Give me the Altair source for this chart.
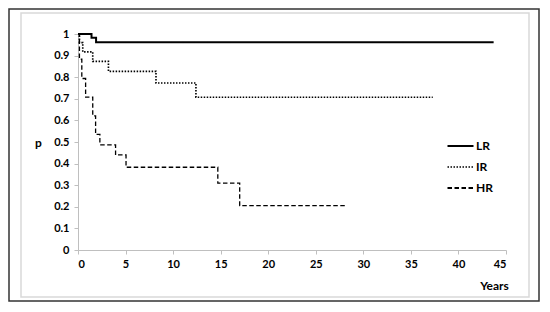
import altair as alt
import pandas as pd

# Kaplan-Meier style survival curves (years, probability)
lr_t = [0, 1.42, 1.9, 43.7]
lr_p = [1, 0.983, 0.962, 0.962]
ir_t = [0, 0.15, 0.5, 1.55, 3.2, 8.2, 12.4, 37.3]
ir_p = [1, 0.96, 0.917, 0.873, 0.827, 0.773, 0.707, 0.707]
hr_t = [0, 0.15, 0.4, 0.8, 1.55, 1.85, 2.3, 3.95, 5.05, 14.7, 17.0, 28.3]
hr_p = [1, 0.883, 0.794, 0.708, 0.621, 0.535, 0.487, 0.44, 0.383, 0.31, 0.205, 0.205]
series = ["LR", "IR", "HR"]
x_ticks = list(range(0, 50, 5))
y_ticks = [round(i * 0.1, 1) for i in range(11)]

rows = []
for name, ts, ps in [("LR", lr_t, lr_p), ("IR", ir_t, ir_p), ("HR", hr_t, hr_p)]:
    for t, p in zip(ts, ps):
        rows.append({"series": name, "t": t, "p": p})
df = pd.DataFrame(rows)

W, H = 428, 216
FONT = "Lato"
dashes = {"LR": [1, 0], "IR": [1.5, 1.5], "HR": [4.5, 2.5]}
widths = {"LR": 2, "IR": 1.3, "HR": 2}

xscale = alt.Scale(domain=[0, 45], nice=False, zero=False)
yscale = alt.Scale(domain=[0, 1], nice=False)

xaxis = alt.Axis(values=x_ticks, grid=False, domainColor="#bfbfbf", tickColor="#bfbfbf",
                 tickSize=4, labelPadding=4, labelFont=FONT, labelFontWeight="bold",
                 labelFontSize=11, labelColor="#000", title="Years", titleFont=FONT,
                 titleFontWeight="bold", titleFontSize=12, titleColor="#000",
                 titleX=416, titleY=35, titleAlign="center", titleBaseline="middle")
yaxis = alt.Axis(values=y_ticks, grid=False, domainColor="#bfbfbf", tickColor="#bfbfbf",
                 tickSize=4, labelPadding=5, labelFont=FONT, labelFontWeight="bold",
                 labelFontSize=11, labelColor="#000", labelExpr="format(datum.value, '~g')",
                 title="p", titleFont=FONT, titleFontWeight="bold", titleFontSize=12,
                 titleColor="#000", titleAngle=0, titleX=-40, titleY=108,
                 titleAlign="center", titleBaseline="middle")

lines = alt.Chart(df).mark_line(interpolate="step-after", color="black", clip=False).encode(
    x=alt.X("t:Q", scale=xscale, axis=xaxis),
    y=alt.Y("p:Q", scale=yscale, axis=yaxis),
    detail="series:N",
    strokeDash=alt.StrokeDash("series:N", scale=alt.Scale(domain=series, range=[dashes[s] for s in series]), legend=None),
    strokeWidth=alt.StrokeWidth("series:N", scale=alt.Scale(domain=series, range=[widths[s] for s in series]), legend=None),
)

layers = []
# outer dark frame and inner light frame
layers.append(alt.Chart(alt.Data(values=[{}])).mark_rect(
    filled=False, stroke="#333", strokeWidth=1.5).encode(
    x=alt.value(-69), x2=alt.value(461), y=alt.value(-25), y2=alt.value(267)))
layers.append(alt.Chart(alt.Data(values=[{}])).mark_rect(
    filled=False, stroke="#d9d9d9", strokeWidth=1.5).encode(
    x=alt.value(-57), x2=alt.value(451), y=alt.value(-21), y2=alt.value(263)))
layers.append(lines)

# legend
for i, name in enumerate(series):
    yy = 112 + 21 * i
    layers.append(alt.Chart(alt.Data(values=[{}])).mark_rule(
        color="black", strokeWidth=widths[name], strokeDash=dashes[name]).encode(
        x=alt.value(369.5), x2=alt.value(395.5), y=alt.value(yy)))
    layers.append(alt.Chart(alt.Data(values=[{}])).mark_text(
        text=name, font=FONT, fontWeight="bold", fontSize=12, align="left",
        baseline="middle", color="black").encode(
        x=alt.value(398), y=alt.value(yy)))

chart = alt.layer(*layers).properties(
    width=W, height=H, background="white",
    padding={"left": 70, "top": 26, "right": 34, "bottom": 52},
    autosize=alt.AutoSizeParams(type="none"),
).configure_view(stroke=None)

chart.save("out.html", embed_options={"renderer": "svg", "actions": False})
